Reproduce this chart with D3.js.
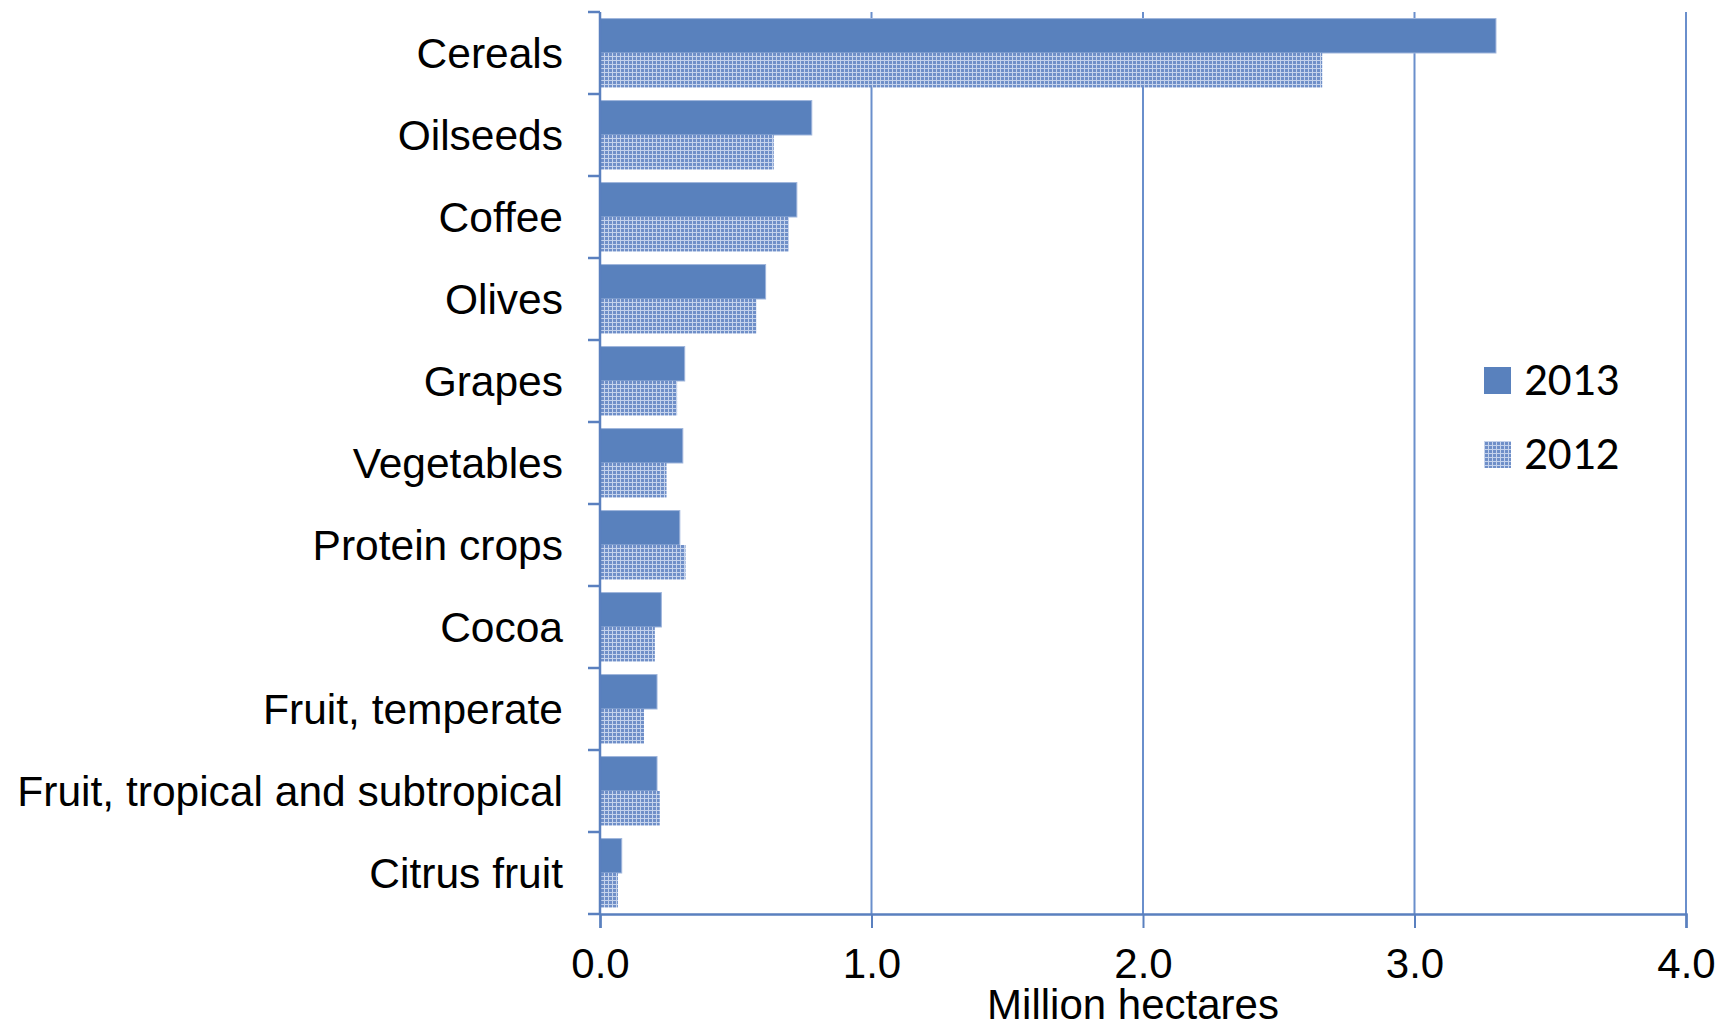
<!DOCTYPE html>
<html>
<head>
<meta charset="utf-8">
<script src="https://cdn.jsdelivr.net/npm/d3@7"></script>
<style>
  body { margin: 0; background: #fff; }
  svg text { font-family: "Liberation Sans", Arial, sans-serif; fill: #000; }
</style>
</head>
<body>
<svg id="chart" width="1720" height="1027"></svg>
<script>
const categories = ["Cereals", "Oilseeds", "Coffee", "Olives", "Grapes", "Vegetables",
  "Protein crops", "Cocoa", "Fruit, temperate", "Fruit, tropical and subtropical", "Citrus fruit"];
const series = ["2013", "2012"];
const values2013 = [3.30, 0.78, 0.725, 0.61, 0.312, 0.305, 0.294, 0.226, 0.21, 0.21, 0.08];
const values2012 = [2.66, 0.64, 0.696, 0.576, 0.284, 0.245, 0.315, 0.202, 0.162, 0.22, 0.066];
const xTicks = [0, 1, 2, 3, 4];

const axisColor = "#5a80bf";
const barColor = "#5981bd";

const svg = d3.select("#chart");

// pattern for the 2012 bars (small grid look)
const defs = svg.append("defs");
const pat = defs.append("pattern")
  .attr("id", "grid2012")
  .attr("width", 4).attr("height", 4)
  .attr("patternUnits", "userSpaceOnUse");
pat.append("rect").attr("width", 4).attr("height", 4).attr("fill", "#6f8fc8");
pat.append("rect").attr("width", 4).attr("height", 1).attr("fill", "#c5d3ec");
pat.append("rect").attr("width", 1).attr("height", 4).attr("fill", "#c5d3ec");

const x = d3.scaleLinear().domain([0, 4]).range([600, 1686]);
const y = d3.scaleBand().domain(categories).range([12, 914]).padding(0);
const ySub = d3.scaleBand().domain(series)
  .range([y.bandwidth() * 0.08, y.bandwidth() * 0.92]);

const data = categories.map((c, i) => ({ cat: c, v2013: values2013[i], v2012: values2012[i] }));

// vertical gridlines
svg.append("g")
  .selectAll("line")
  .data(xTicks.slice(1))
  .enter()
  .append("line")
  .attr("x1", (d) => x(d)).attr("x2", (d) => x(d))
  .attr("y1", 12).attr("y2", 914)
  .attr("stroke", "#6a8fcc")
  .attr("stroke-width", 2);

// bars
const groups = svg.append("g")
  .selectAll("g")
  .data(data)
  .enter()
  .append("g")
  .attr("transform", (d) => "translate(0," + y(d.cat) + ")");

groups.append("rect")
  .attr("x", x(0))
  .attr("y", ySub("2013"))
  .attr("width", (d) => x(d.v2013) - x(0))
  .attr("height", ySub.bandwidth())
  .attr("fill", barColor)
  .attr("stroke", "#9fb5dc")
  .attr("stroke-width", 1);

groups.append("rect")
  .attr("x", x(0) + 1)
  .attr("y", ySub("2012"))
  .attr("width", (d) => x(d.v2012) - x(0) - 1)
  .attr("height", ySub.bandwidth())
  .attr("fill", "url(#grid2012)");

// y axis (category axis, ticks between categories)
const yAxis = svg.append("g");
yAxis.append("line")
  .attr("x1", x(0)).attr("x2", x(0))
  .attr("y1", 12).attr("y2", 914)
  .attr("stroke", axisColor).attr("stroke-width", 2.5);
const boundaries = categories.map((c) => y(c)).concat([914]);
yAxis.selectAll(".tk")
  .data(boundaries)
  .enter()
  .append("line")
  .attr("x1", x(0) - 12).attr("x2", x(0))
  .attr("y1", (d) => d).attr("y2", (d) => d)
  .attr("stroke", axisColor).attr("stroke-width", 2.5);
yAxis.selectAll("text")
  .data(categories)
  .enter()
  .append("text")
  .attr("x", 563)
  .attr("y", (d) => y(d) + y.bandwidth() / 2 + 15)
  .attr("text-anchor", "end")
  .attr("font-size", 42.5)
  .text((d) => d);

// x axis
const xAxis = svg.append("g").attr("transform", "translate(0,914)")
  .call(d3.axisBottom(x).tickValues(xTicks).tickFormat(d3.format(".1f")).tickSize(14).tickPadding(20));
xAxis.select(".domain").attr("stroke", axisColor).attr("stroke-width", 2.5);
xAxis.selectAll(".tick line").attr("stroke", axisColor).attr("stroke-width", 2);
xAxis.selectAll(".tick text")
  .attr("font-size", 42)
  .attr("font-family", "Liberation Sans, Arial, sans-serif")
  .attr("fill", "#000");

svg.append("text")
  .attr("x", 1133).attr("y", 1019)
  .attr("text-anchor", "middle")
  .attr("font-size", 42)
  .text("Million hectares");

// legend
const legend = svg.append("g").attr("transform", "translate(1484,367)");
const legFill = { "2013": barColor, "2012": "url(#grid2012)" };
series.forEach((s, i) => {
  const row = legend.append("g").attr("transform", "translate(0," + i * 74 + ")");
  row.append("rect").attr("width", 27).attr("height", 27).attr("fill", legFill[s]);
  row.append("text")
    .attr("x", 40).attr("y", 28)
    .attr("font-size", 47)
    .style("font-family", "Carlito, Lato, sans-serif")
    .text(s);
});
</script>
</body>
</html>
